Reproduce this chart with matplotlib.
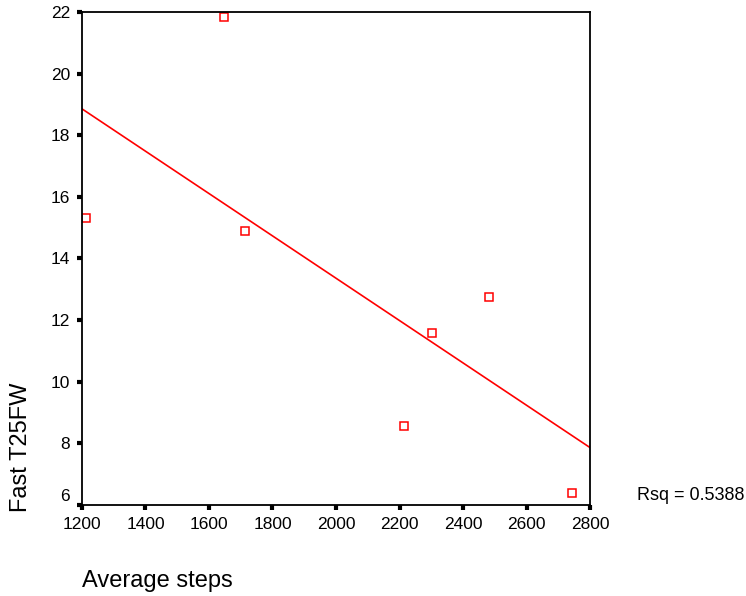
import matplotlib.pyplot as plt
import matplotlib.transforms as mtransforms
import numpy as np

plt.rcParams['font.family'] = ['Liberation Sans', 'DejaVu Sans']

steps = [1213, 1647, 1713, 2214, 2302, 2482, 2743]
t25fw = [15.33, 21.84, 14.88, 8.57, 11.59, 12.76, 6.39]
rsq_text = 'Rsq = 0.5388'

fig = plt.figure(figsize=(7.46, 5.96), dpi=100)
ax = fig.add_axes([0.1099, 0.1527, 0.681, 0.8272])

# fit line
slope, intercept = np.polyfit(steps, t25fw, 1)
xs = np.array([1200, 2800])
ax.plot(xs, slope * xs + intercept, color='#ff0000', lw=1.2)

ax.plot(steps, t25fw, 's', ms=5.6, mfc='white', mec='#ff0000', mew=1.1, ls='none')

ax.set_xlim(1200, 2800)
ax.set_ylim(6, 22)
ax.set_xticks(np.arange(1200, 2801, 200))
ax.set_yticks(np.arange(6, 23, 2))
ax.tick_params(direction='out', length=3.5, width=3, labelsize=12.5)
ax.tick_params(axis='x', pad=5.5)
ax.tick_params(axis='y', pad=5)
for sp in ax.spines.values():
    sp.set_linewidth(1.3)

# lift the bottom y label clear of the x labels, like the original
fig.canvas.draw()
lbl = ax.get_yticklabels()[0]
lbl.set_transform(lbl.get_transform() + mtransforms.ScaledTranslation(0, 0.1, fig.dpi_scale_trans))

fig.text(82 / 746, (596 - 587) / 596, 'Average steps', fontsize=17, ha='left', va='baseline')
fig.text(21 / 746, (596 - 512) / 596, 'Fast T25FW', fontsize=17, rotation=90,
         ha='center', va='bottom')
ax.text(1.0925, 0.02, rsq_text, transform=ax.transAxes, fontsize=13, va='center')

fig.savefig('out.png', dpi=100)
